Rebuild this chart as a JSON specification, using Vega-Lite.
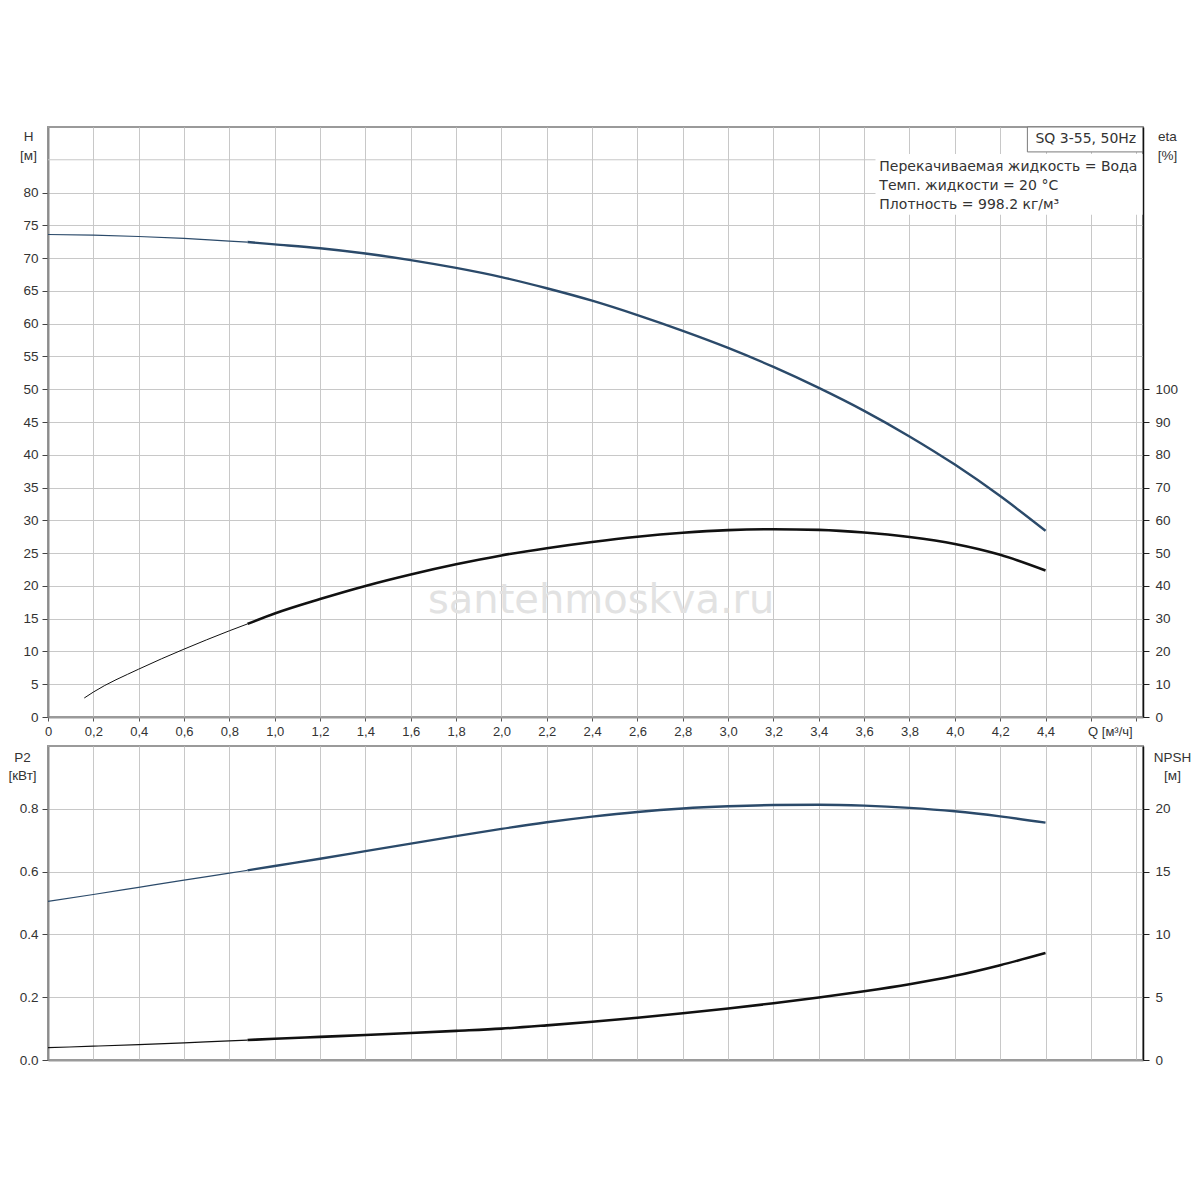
{
  "$schema": "https://vega.github.io/schema/vega-lite/v6.json",
  "background": "white",
  "padding": {"left": 6, "top": 125, "right": 5, "bottom": 5},
  "spacing": 29,
  "bounds": "flush",
  "config": {
    "font": "Liberation Sans",
    "view": {"stroke": "#9a9a9a", "strokeWidth": 2},
    "axis": {
      "labelFont": "Liberation Sans",
      "labelFontSize": 13.5,
      "labelColor": "#333",
      "titleFont": "Liberation Sans",
      "titleFontSize": 13.5,
      "titleFontWeight": "normal",
      "titleColor": "#333",
      "gridColor": "#c8c8c8",
      "gridWidth": 1,
      "tickColor": "#444",
      "tickSize": 6,
      "labelPadding": 4
    },
    "text": {"font": "DejaVu Sans"}
  },
  "datasets": {
    "head": [
      {"q": 0, "h": 73.6, "part": "ext"},
      {"q": 0.2, "h": 73.5, "part": "ext"},
      {"q": 0.4, "h": 73.3, "part": "ext"},
      {"q": 0.6, "h": 73.0, "part": "ext"},
      {"q": 0.8, "h": 72.6, "part": "ext"},
      {"q": 0.88, "h": 72.45, "part": "ext"},
      {"q": 0.88, "h": 72.45, "part": "op"},
      {"q": 1.0, "h": 72.1, "part": "op"},
      {"q": 1.2, "h": 71.5, "part": "op"},
      {"q": 1.4, "h": 70.7, "part": "op"},
      {"q": 1.6, "h": 69.7, "part": "op"},
      {"q": 1.8, "h": 68.5, "part": "op"},
      {"q": 2.0, "h": 67.1, "part": "op"},
      {"q": 2.2, "h": 65.4, "part": "op"},
      {"q": 2.4, "h": 63.5, "part": "op"},
      {"q": 2.6, "h": 61.3, "part": "op"},
      {"q": 2.8, "h": 58.9, "part": "op"},
      {"q": 3.0, "h": 56.3, "part": "op"},
      {"q": 3.2, "h": 53.4, "part": "op"},
      {"q": 3.4, "h": 50.2, "part": "op"},
      {"q": 3.6, "h": 46.7, "part": "op"},
      {"q": 3.8, "h": 42.8, "part": "op"},
      {"q": 4.0, "h": 38.5, "part": "op"},
      {"q": 4.2, "h": 33.7, "part": "op"},
      {"q": 4.4, "h": 28.4, "part": "op"}
    ],
    "eta": [
      {"q": 0.16, "eta": 5.8, "part": "ext"},
      {"q": 0.2, "eta": 7.6, "part": "ext"},
      {"q": 0.4, "eta": 14.6, "part": "ext"},
      {"q": 0.6, "eta": 20.7, "part": "ext"},
      {"q": 0.8, "eta": 26.3, "part": "ext"},
      {"q": 0.88, "eta": 28.4, "part": "ext"},
      {"q": 0.88, "eta": 28.4, "part": "op"},
      {"q": 1.0, "eta": 31.6, "part": "op"},
      {"q": 1.2, "eta": 36.0, "part": "op"},
      {"q": 1.4, "eta": 40.0, "part": "op"},
      {"q": 1.6, "eta": 43.5, "part": "op"},
      {"q": 1.8, "eta": 46.6, "part": "op"},
      {"q": 2.0, "eta": 49.3, "part": "op"},
      {"q": 2.2, "eta": 51.5, "part": "op"},
      {"q": 2.4, "eta": 53.4, "part": "op"},
      {"q": 2.6, "eta": 55.0, "part": "op"},
      {"q": 2.8, "eta": 56.2, "part": "op"},
      {"q": 3.0, "eta": 57.0, "part": "op"},
      {"q": 3.2, "eta": 57.3, "part": "op"},
      {"q": 3.4, "eta": 57.1, "part": "op"},
      {"q": 3.6, "eta": 56.3, "part": "op"},
      {"q": 3.8, "eta": 54.9, "part": "op"},
      {"q": 4.0, "eta": 52.8, "part": "op"},
      {"q": 4.2, "eta": 49.5, "part": "op"},
      {"q": 4.4, "eta": 44.7, "part": "op"}
    ],
    "power": [
      {"q": 0, "p2": 0.505, "part": "ext"},
      {"q": 0.2, "p2": 0.527, "part": "ext"},
      {"q": 0.4, "p2": 0.55, "part": "ext"},
      {"q": 0.6, "p2": 0.573, "part": "ext"},
      {"q": 0.8, "p2": 0.595, "part": "ext"},
      {"q": 0.88, "p2": 0.604, "part": "ext"},
      {"q": 0.88, "p2": 0.604, "part": "op"},
      {"q": 1.0, "p2": 0.618, "part": "op"},
      {"q": 1.2, "p2": 0.641, "part": "op"},
      {"q": 1.4, "p2": 0.665, "part": "op"},
      {"q": 1.6, "p2": 0.689, "part": "op"},
      {"q": 1.8, "p2": 0.713, "part": "op"},
      {"q": 2.0, "p2": 0.736, "part": "op"},
      {"q": 2.2, "p2": 0.757, "part": "op"},
      {"q": 2.4, "p2": 0.775, "part": "op"},
      {"q": 2.6, "p2": 0.79, "part": "op"},
      {"q": 2.8, "p2": 0.801, "part": "op"},
      {"q": 3.0, "p2": 0.808, "part": "op"},
      {"q": 3.2, "p2": 0.812, "part": "op"},
      {"q": 3.4, "p2": 0.813, "part": "op"},
      {"q": 3.6, "p2": 0.81, "part": "op"},
      {"q": 3.8, "p2": 0.803, "part": "op"},
      {"q": 4.0, "p2": 0.792, "part": "op"},
      {"q": 4.2, "p2": 0.776, "part": "op"},
      {"q": 4.4, "p2": 0.756, "part": "op"}
    ],
    "npsh": [
      {"q": 0, "npsh": 0.98, "part": "ext"},
      {"q": 0.2, "npsh": 1.1, "part": "ext"},
      {"q": 0.4, "npsh": 1.22, "part": "ext"},
      {"q": 0.6, "npsh": 1.36, "part": "ext"},
      {"q": 0.8, "npsh": 1.53, "part": "ext"},
      {"q": 0.88, "npsh": 1.59, "part": "ext"},
      {"q": 0.88, "npsh": 1.59, "part": "op"},
      {"q": 1.0, "npsh": 1.69, "part": "op"},
      {"q": 1.2, "npsh": 1.84, "part": "op"},
      {"q": 1.4, "npsh": 1.99, "part": "op"},
      {"q": 1.6, "npsh": 2.15, "part": "op"},
      {"q": 1.8, "npsh": 2.32, "part": "op"},
      {"q": 2.0, "npsh": 2.5, "part": "op"},
      {"q": 2.2, "npsh": 2.76, "part": "op"},
      {"q": 2.4, "npsh": 3.05, "part": "op"},
      {"q": 2.6, "npsh": 3.37, "part": "op"},
      {"q": 2.8, "npsh": 3.72, "part": "op"},
      {"q": 3.0, "npsh": 4.1, "part": "op"},
      {"q": 3.2, "npsh": 4.52, "part": "op"},
      {"q": 3.4, "npsh": 4.97, "part": "op"},
      {"q": 3.6, "npsh": 5.47, "part": "op"},
      {"q": 3.8, "npsh": 6.03, "part": "op"},
      {"q": 4.0, "npsh": 6.7, "part": "op"},
      {"q": 4.2, "npsh": 7.55, "part": "op"},
      {"q": 4.4, "npsh": 8.52, "part": "op"}
    ]
  },
  "vconcat": [
    {
      "width": 1095,
      "height": 590,
      "layer": [
        {
          "layer": [
            {
              "data": {"name": "head"},
              "transform": [{"filter": "datum.part == 'op'"}],
              "mark": {"type": "line", "color": "#2b4a6a", "strokeWidth": 2.4, "interpolate": "monotone"},
              "encoding": {
                "x": {
                  "field": "q",
                  "type": "quantitative",
                  "scale": {"domain": [0, 4.83], "nice": false},
                  "axis": {
                    "title": null,
                    "values": [0, 0.2, 0.4, 0.6, 0.8, 1, 1.2, 1.4, 1.6, 1.8, 2, 2.2, 2.4, 2.6, 2.8, 3, 3.2, 3.4, 3.6, 3.8, 4, 4.2, 4.4, 4.6, 4.8],
                    "tickCount": 40,
                    "labelExpr": "datum.value == 4.6 ? 'Q [м³/ч]' : datum.value > 4.7 ? '' : datum.value == 0 ? '0' : replace(format(datum.value, '.1f'), '.', ',')",
                    "labelOffset": {"condition": {"test": "datum.value == 4.6", "value": 19}, "value": 0},
                    "labelFontSize": 13,
                    "labelFlush": false,
                    "labelOverlap": false,
                    "tickSize": 4,
                    "tickColor": "#555",
                    "domainColor": "#9a9a9a",
                    "domainWidth": 2
                  }
                },
                "y": {
                  "field": "h",
                  "type": "quantitative",
                  "scale": {"domain": [0, 90], "nice": false},
                  "axis": {
                    "values": [0, 5, 10, 15, 20, 25, 30, 35, 40, 45, 50, 55, 60, 65, 70, 75, 80],
                    "tickCount": 40,
                    "format": "d",
                    "labelOverlap": false,
                    "title": ["H", "[м]"],
                    "titleAngle": 0,
                    "titleAlign": "center",
                    "titleBaseline": "top",
                    "titleX": -20,
                    "titleY": 2,
                    "titleLineHeight": 19,
                    "domainColor": "#8c8c8c",
                    "domainWidth": 2
                  }
                }
              }
            },
            {
              "data": {"name": "head"},
              "transform": [{"filter": "datum.part == 'ext'"}],
              "mark": {"type": "line", "color": "#2b4a6a", "strokeWidth": 1.2, "interpolate": "monotone"},
              "encoding": {
                "x": {"field": "q", "type": "quantitative", "scale": {"domain": [0, 4.83], "nice": false}},
                "y": {"field": "h", "type": "quantitative", "scale": {"domain": [0, 90], "nice": false}}
              }
            }
          ]
        },
        {
          "layer": [
            {
              "data": {"values": [{}]},
              "mark": {"type": "rule", "color": "#c8c8c8", "strokeWidth": 1},
              "encoding": {
                "y": {"datum": 85, "type": "quantitative", "scale": {"domain": [0, 90], "nice": false}, "axis": null}
              }
            },
            {
              "data": {"values": [{}]},
              "mark": {"type": "rect", "fill": "white"},
              "encoding": {
                "x": {"datum": 3.65, "type": "quantitative"},
                "x2": {"datum": 4.83},
                "y": {"datum": 76.6, "type": "quantitative", "scale": {"domain": [0, 90], "nice": false}, "axis": null},
                "y2": {"datum": 85.9}
              }
            },
            {
              "data": {"values": [{}]},
              "mark": {"type": "rect", "fill": "white", "stroke": "#7a7a7a", "strokeWidth": 1},
              "encoding": {
                "x": {"datum": 4.32, "type": "quantitative"},
                "x2": {"datum": 4.83},
                "y": {"datum": 86.2, "type": "quantitative", "scale": {"domain": [0, 90], "nice": false}, "axis": null},
                "y2": {"datum": 90}
              }
            },
            {
              "data": {"values": [{"label": "SQ 3-55, 50Hz"}]},
              "mark": {"type": "text", "align": "right", "baseline": "middle", "fontSize": 14, "color": "#333"},
              "encoding": {
                "x": {"datum": 4.8, "type": "quantitative"},
                "y": {"datum": 88.2, "type": "quantitative", "scale": {"domain": [0, 90], "nice": false}, "axis": null},
                "text": {"field": "label"}
              }
            },
            {
              "data": {"values": [{"label": "Перекачиваемая жидкость = Вода"}]},
              "mark": {"type": "text", "align": "left", "baseline": "middle", "fontSize": 14, "color": "#333"},
              "encoding": {
                "x": {"datum": 3.667, "type": "quantitative"},
                "y": {"datum": 83.9, "type": "quantitative", "scale": {"domain": [0, 90], "nice": false}, "axis": null},
                "text": {"field": "label"}
              }
            },
            {
              "data": {"values": [{"label": "Темп. жидкости = 20 °C"}]},
              "mark": {"type": "text", "align": "left", "baseline": "middle", "fontSize": 14, "color": "#333"},
              "encoding": {
                "x": {"datum": 3.667, "type": "quantitative"},
                "y": {"datum": 81.0, "type": "quantitative", "scale": {"domain": [0, 90], "nice": false}, "axis": null},
                "text": {"field": "label"}
              }
            },
            {
              "data": {"values": [{"label": "Плотность = 998.2 кг/м³"}]},
              "mark": {"type": "text", "align": "left", "baseline": "middle", "fontSize": 14, "color": "#333"},
              "encoding": {
                "x": {"datum": 3.667, "type": "quantitative"},
                "y": {"datum": 78.1, "type": "quantitative", "scale": {"domain": [0, 90], "nice": false}, "axis": null},
                "text": {"field": "label"}
              }
            },
            {
              "data": {"values": [{"label": "santehmoskva.ru"}]},
              "mark": {"type": "text", "align": "center", "baseline": "middle", "fontSize": 40, "color": "#e2e2e2"},
              "encoding": {
                "x": {"datum": 2.44, "type": "quantitative"},
                "y": {"datum": 17.7, "type": "quantitative", "scale": {"domain": [0, 90], "nice": false}, "axis": null},
                "text": {"field": "label"}
              }
            }
          ]
        },
        {
          "layer": [
            {
              "data": {"name": "eta"},
              "transform": [{"filter": "datum.part == 'op'"}],
              "mark": {"type": "line", "color": "#111", "strokeWidth": 2.6, "interpolate": "monotone"},
              "encoding": {
                "x": {"field": "q", "type": "quantitative", "scale": {"domain": [0, 4.83], "nice": false}},
                "y": {
                  "field": "eta",
                  "type": "quantitative",
                  "scale": {"domain": [0, 180], "nice": false},
                  "axis": {
                    "orient": "right",
                    "grid": false,
                    "zindex": 1,
                    "values": [0, 10, 20, 30, 40, 50, 60, 70, 80, 90, 100],
                    "tickCount": 40,
                    "format": "d",
                    "labelOverlap": false,
                    "title": ["eta", "[%]"],
                    "titleAngle": 0,
                    "titleAlign": "center",
                    "titleBaseline": "top",
                    "titleX": 24,
                    "titleY": 2,
                    "titleLineHeight": 19,
                    "labelPadding": 6,
                    "tickColor": "#222",
                    "domainColor": "#111",
                    "domainWidth": 1.5
                  }
                }
              }
            },
            {
              "data": {"name": "eta"},
              "transform": [{"filter": "datum.part == 'ext'"}],
              "mark": {"type": "line", "color": "#111", "strokeWidth": 1, "interpolate": "monotone"},
              "encoding": {
                "x": {"field": "q", "type": "quantitative", "scale": {"domain": [0, 4.83], "nice": false}},
                "y": {"field": "eta", "type": "quantitative", "scale": {"domain": [0, 180], "nice": false}}
              }
            }
          ]
        }
      ],
      "resolve": {"scale": {"y": "independent"}}
    },
    {
      "width": 1095,
      "height": 314,
      "layer": [
        {
          "layer": [
            {
              "data": {"name": "power"},
              "transform": [{"filter": "datum.part == 'op'"}],
              "mark": {"type": "line", "color": "#2b4a6a", "strokeWidth": 2.4, "interpolate": "monotone"},
              "encoding": {
                "x": {
                  "field": "q",
                  "type": "quantitative",
                  "scale": {"domain": [0, 4.83], "nice": false},
                  "axis": {
                    "title": null,
                    "values": [0, 0.2, 0.4, 0.6, 0.8, 1, 1.2, 1.4, 1.6, 1.8, 2, 2.2, 2.4, 2.6, 2.8, 3, 3.2, 3.4, 3.6, 3.8, 4, 4.2, 4.4, 4.6, 4.8],
                    "tickCount": 40,
                    "labels": false,
                    "ticks": false,
                    "domainColor": "#9a9a9a",
                    "domainWidth": 2
                  }
                },
                "y": {
                  "field": "p2",
                  "type": "quantitative",
                  "scale": {"domain": [0, 1], "nice": false},
                  "axis": {
                    "values": [0, 0.2, 0.4, 0.6, 0.8],
                    "tickCount": 40,
                    "format": ".1f",
                    "labelOverlap": false,
                    "title": ["P2", "[кВт]"],
                    "titleAngle": 0,
                    "titleAlign": "center",
                    "titleBaseline": "top",
                    "titleX": -26,
                    "titleY": 4,
                    "titleLineHeight": 18,
                    "domainColor": "#8c8c8c",
                    "domainWidth": 2
                  }
                }
              }
            },
            {
              "data": {"name": "power"},
              "transform": [{"filter": "datum.part == 'ext'"}],
              "mark": {"type": "line", "color": "#2b4a6a", "strokeWidth": 1.2, "interpolate": "monotone"},
              "encoding": {
                "x": {"field": "q", "type": "quantitative", "scale": {"domain": [0, 4.83], "nice": false}},
                "y": {"field": "p2", "type": "quantitative", "scale": {"domain": [0, 1], "nice": false}}
              }
            }
          ]
        },
        {
          "layer": [
            {
              "data": {"name": "npsh"},
              "transform": [{"filter": "datum.part == 'op'"}],
              "mark": {"type": "line", "color": "#111", "strokeWidth": 2.6, "interpolate": "monotone"},
              "encoding": {
                "x": {"field": "q", "type": "quantitative", "scale": {"domain": [0, 4.83], "nice": false}},
                "y": {
                  "field": "npsh",
                  "type": "quantitative",
                  "scale": {"domain": [0, 25], "nice": false},
                  "axis": {
                    "orient": "right",
                    "grid": false,
                    "zindex": 1,
                    "values": [0, 5, 10, 15, 20],
                    "tickCount": 40,
                    "format": "d",
                    "labelOverlap": false,
                    "title": ["NPSH", "[м]"],
                    "titleAngle": 0,
                    "titleAlign": "center",
                    "titleBaseline": "top",
                    "titleX": 29,
                    "titleY": 4,
                    "titleLineHeight": 18,
                    "labelPadding": 6,
                    "tickColor": "#222",
                    "domainColor": "#111",
                    "domainWidth": 1.5
                  }
                }
              }
            },
            {
              "data": {"name": "npsh"},
              "transform": [{"filter": "datum.part == 'ext'"}],
              "mark": {"type": "line", "color": "#111", "strokeWidth": 1.2, "interpolate": "monotone"},
              "encoding": {
                "x": {"field": "q", "type": "quantitative", "scale": {"domain": [0, 4.83], "nice": false}},
                "y": {"field": "npsh", "type": "quantitative", "scale": {"domain": [0, 25], "nice": false}}
              }
            }
          ]
        }
      ],
      "resolve": {"scale": {"y": "independent"}}
    }
  ]
}
